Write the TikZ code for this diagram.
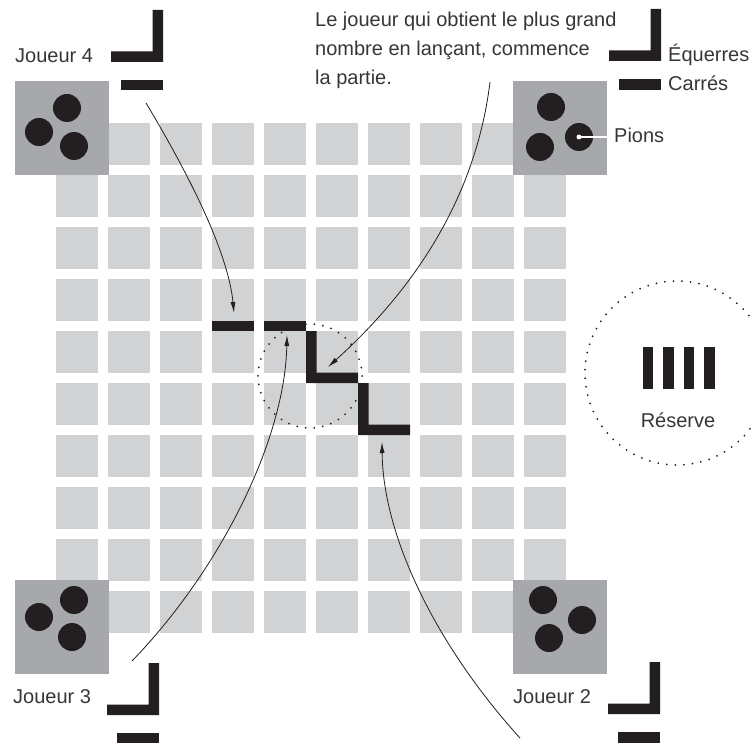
\documentclass[tikz,border=0pt]{standalone}
\usepackage{fontspec}
\setmainfont{Liberation Sans}
\usetikzlibrary{arrows.meta}
\definecolor{cellgrey}{RGB}{209,210,212}
\definecolor{basegrey}{RGB}{167,168,171}
\definecolor{ink}{RGB}{35,31,32}

\begin{document}
\begin{tikzpicture}[
  x=1pt, y=-1pt, font=\fontsize{20}{29}\selectfont, >={Latex[length=11pt,width=5pt]},
  cell/.style={fill=cellgrey},
  base/.style={fill=basegrey, minimum size=94pt, inner sep=0pt},
  pion/.style={circle, fill=ink, minimum size=28pt, inner sep=0pt},
  carre/.style={fill=ink, minimum width=42pt, minimum height=10.5pt, inner sep=0pt},
  barre/.style={fill=ink, minimum width=10.5pt, minimum height=42pt, inner sep=0pt},
  equerre/.style={fill=ink},
  ring/.style={draw=ink, line width=2pt, line cap=round, dash pattern=on 0pt off 8.6pt},
  lbl/.style={text=ink!90, inner sep=0pt, anchor=base west},
  link/.style={->, draw=ink, line width=0.8pt},
]
\useasboundingbox (0,0) rectangle (751,743);
\foreach \i in {0,...,9}
  \foreach \j in {0,...,9}
    \fill[cell] (56+52*\i,123+52*\j) rectangle +(42,42);

\node[base] (b4) at (62,128) {};
\node[base] (b1) at (560,128) {};
\node[base] (b3) at (62,627) {};
\node[base] (b2) at (560,627) {};

\node[pion] (p4a) at (67,108) {}; \node[pion] (p4b) at (39,132) {}; \node[pion] (p4c) at (74,146) {};
\node[pion] (p1a) at (551,107) {}; \node[pion] (p1b) at (540,147) {}; \node[pion] (p1c) at (579,137) {};
\node[pion] (p3a) at (74,600) {}; \node[pion] (p3b) at (39,617) {}; \node[pion] (p3c) at (72,637) {};
\node[pion] (p2a) at (543,600) {}; \node[pion] (p2b) at (582,620) {}; \node[pion] (p2c) at (549,638) {};

\fill[equerre] (163,62) -- ++(-52,0) -- ++(0,-10.5) -- ++(41.5,0) -- ++(0,-41.5) -- ++(10.5,0) -- cycle;
\fill[equerre] (661,61) -- ++(-52,0) -- ++(0,-10.5) -- ++(41.5,0) -- ++(0,-41.5) -- ++(10.5,0) -- cycle;
\fill[equerre] (159,715) -- ++(-52,0) -- ++(0,-10.5) -- ++(41.5,0) -- ++(0,-41.5) -- ++(10.5,0) -- cycle;
\fill[equerre] (660,714) -- ++(-52,0) -- ++(0,-10.5) -- ++(41.5,0) -- ++(0,-41.5) -- ++(10.5,0) -- cycle;
\node[carre] (c4) at (142,85) {};
\node[carre] (c1) at (640,84.5) {};
\node[carre] (c3) at (138,738) {};
\node[carre] (c2) at (639,737.5) {};

\node[carre] (cA) at (233,326) {};
\node[carre] (cB) at (285,326) {};
\fill[equerre] (306,383) -- ++(0,-52) -- ++(10.5,0) -- ++(0,41.5) -- ++(41.5,0) -- ++(0,10.5) -- cycle;
\fill[equerre] (358,435) -- ++(0,-52) -- ++(10.5,0) -- ++(0,41.5) -- ++(41.5,0) -- ++(0,10.5) -- cycle;
\draw[ring] (310,376) circle (52);

\draw[ring] (677,373) circle (92);
\foreach \x [count=\k] in {648,668.5,689,709.5}
  \node[barre] (r\k) at (\x,368) {};
\node[text=ink!90, inner sep=0pt, anchor=base] (res) at (678,427) {Réserve};

\node[lbl] (j4) at (15,63) {Joueur 4};
\node[lbl] (j3) at (13,703) {Joueur 3};
\node[lbl] (j2) at (513,703) {Joueur 2};
\node[lbl] (eq) at (668,62) {Équerres};
\node[lbl] (ca) at (668,91) {Carrés};
\node[lbl] (pi) at (614,143) {Pions};
\node[text=ink!90, inner sep=0pt, anchor=north west, align=left] (note) at (315,12)
  {Le joueur qui obtient le plus grand\\nombre en lançant, commence\\la partie.};

\draw[white, line width=1.2pt] (p1c.center) -- (pi.west |- p1c.center);
\fill[white] (p1c.center) circle (2.5);

\coordinate (s4) at (146,103); \coordinate (t4) at (234,313);
\coordinate (sn) at (490,82);  \coordinate (tn) at (328,367);
\coordinate (s3) at (132,661); \coordinate (t3) at (287,335);
\coordinate (s2) at (520,738); \coordinate (t2) at (382,442);
\draw[link] (s4) .. controls (185,168) and (228,250) .. (t4);
\draw[link] (sn) .. controls (478,180) and (430,275) .. (tn);
\draw[link] (s3) .. controls (220,570) and (285,440) .. (t3);
\draw[link] (s2) .. controls (440,650) and (383,540) .. (t2);
\end{tikzpicture}
\end{document}
